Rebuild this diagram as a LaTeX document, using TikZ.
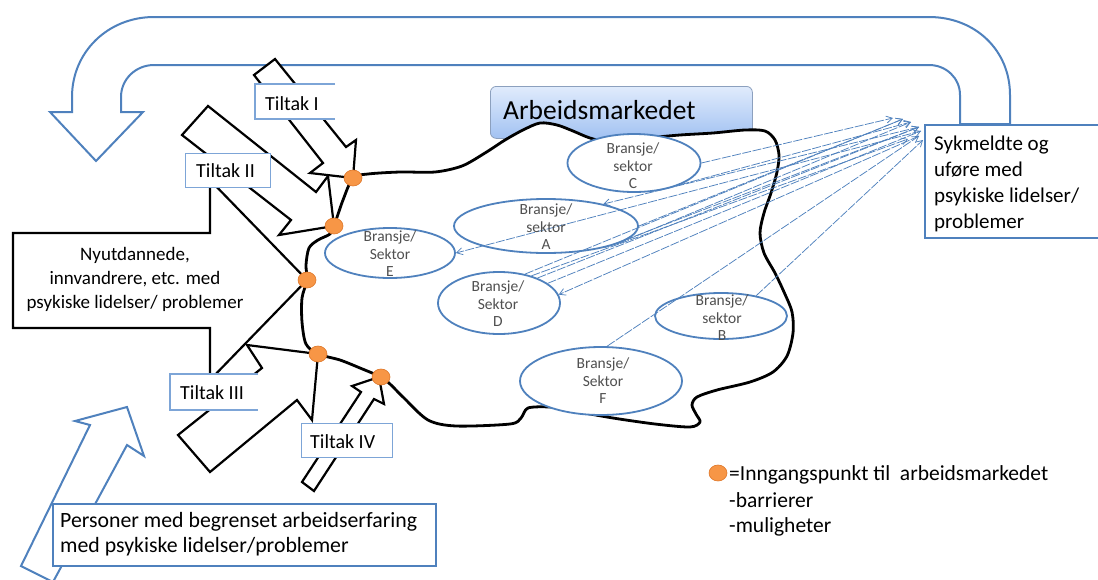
\documentclass[tikz,border=0pt]{standalone}
\usepackage{fontspec}
\setmainfont{Carlito}
\usetikzlibrary{arrows.meta,shapes.geometric}

\definecolor{officeblue}{RGB}{79,129,189}
\definecolor{tagblue}{RGB}{125,165,215}
\definecolor{dotfill}{RGB}{247,150,70}
\definecolor{dotline}{RGB}{222,118,40}
\definecolor{labgray}{RGB}{80,80,80}
\definecolor{amtop}{RGB}{224,235,252}
\definecolor{ambot}{RGB}{162,194,242}
\definecolor{amedge}{RGB}{140,160,190}

\begin{document}
\begin{tikzpicture}[x=1pt,y=-1pt,
  outline/.style={draw=black,line width=2.2pt,fill=white,line join=miter},
  bluebody/.style={draw=officeblue,line width=2pt,fill=white,line join=miter},
  tagline/.style={draw=tagblue,line width=1.2pt},
  tagtext/.style={font=\fontsize{20}{24}\selectfont,inner sep=0pt,anchor=base west},
  sector/.style={ellipse,draw=officeblue,line width=1.8pt,fill=white,inner sep=0pt},
  sectortext/.style={font=\fontsize{15.5}{17.5}\selectfont,text=labgray,align=center,inner sep=0pt},
  link/.style={draw=officeblue,line width=0.75pt,dash pattern=on 9pt off 1.5pt,
    -{Straight Barb[length=6pt,width=7pt]}},
  entry/.style={ellipse,draw=dotline,line width=0.6pt,fill=dotfill,
    minimum width=18pt,minimum height=16pt,inner sep=0pt},
  legendtext/.style={anchor=base west,font=\fontsize{21.5}{25}\selectfont,inner sep=0pt},
]
\useasboundingbox (0,0) rectangle (1098,579);

% ---- large return arrow along the top
\path[bluebody]
  (960,124) -- (960,95) .. controls (960,78) and (946,65) .. (929,65)
  -- (154,65) .. controls (136,65) and (121,79) .. (121,97) -- (121,112)
  -- (143,112) -- (96,161) -- (50,112) -- (72,112) -- (72,97)
  .. controls (72,52) and (108,17) .. (154,17)
  -- (929,17) .. controls (975,17) and (1010,50) .. (1010,95) -- (1010,124) -- cycle;

% ---- arrow from the lower left box
\path[bluebody] (21,566) -- (90,425) -- (75,421) -- (127,407) -- (144,456)
  -- (127,445) -- (53,582) -- cycle;

% ---- big arrow holding the left text
\path[outline] (13,233) -- (210,233) -- (210,180) -- (307,280) -- (210,380)
  -- (210,328) -- (13,328) -- cycle;

% ---- Tiltak arrows
\path[outline] (182,135) -- (291,220) -- (279,235) -- (334,226) -- (328,176)
  -- (316,192) -- (208,106) -- cycle;
\path[outline] (254,75) -- (323,163) -- (310,173) -- (353,178) -- (356,140)
  -- (346,147) -- (275,59) -- cycle;
\path[outline] (178,435) -- (262,368) -- (247,345) -- (318,354) -- (312,420)
  -- (297,400) -- (210,472) -- cycle;
\path[outline] (302,482) -- (361,392) -- (352,386) -- (379,377) -- (384,404)
  -- (374,399) -- (314,491) -- cycle;

% ---- Tiltak labels
\fill[white] (255,84) rectangle (335,119);
\draw[tagline] (335,84) -- (255,84) -- (255,119) -- (335,119);
\node[tagtext] (t1) at (265,110) {Tiltak I};

\node[tagline,fill=white,anchor=north west,minimum width=85pt,minimum height=34pt,inner sep=0pt] (t2box) at (185,153) {};
\node[tagtext] (t2) at (196,177) {Tiltak II};

\fill[white] (170,374) rectangle (258,410);
\draw[tagline] (258,374) -- (170,374) -- (170,410) -- (258,410);
\node[tagtext] (t3) at (180,399) {Tiltak III};

\node[tagline,fill=white,anchor=north west,minimum width=91pt,minimum height=34pt,inner sep=0pt] (t4box) at (301,423) {};
\node[tagtext] (t4) at (310,448) {Tiltak IV};

% ---- left group text (base anchor sits on the last line)
\node[anchor=base,align=center,font=\fontsize{19}{24}\selectfont,inner sep=0pt] (nyt) at (135,308)
  {Nyutdannede,\\innvandrere, etc. med\\psykiske lidelser/ problemer};

% ---- lower left box
\node[draw=officeblue,line width=2pt,fill=white,anchor=north west,minimum width=383pt,
  minimum height=62pt,inner sep=0pt] (pbox) at (52,503) {};
\node[anchor=base west,align=left,font=\fontsize{21.8}{25}\selectfont,inner sep=0pt] (ptext) at (60,552)
  {Personer med begrenset arbeidserfaring\\med psykiske lidelser/problemer};

% ---- labour market title
\node[draw=amedge,line width=0.8pt,rounded corners=6pt,top color=amtop,bottom color=ambot,
  anchor=north west,minimum width=262pt,minimum height=52pt,inner sep=0pt] (ambox) at (490,86) {};
\node[anchor=base west,font=\fontsize{27.5}{30}\selectfont,inner sep=0pt] (amtext) at (503,119) {Arbeidsmarkedet};

% ---- the labour market itself
\draw[line width=2.8pt,fill=white,line join=round] plot[smooth cycle,tension=0.5] coordinates {
  (353,178) (368,174) (400,172) (435,172) (462,166) (485,153) (505,140) (523,130)
  (540,123) (557,125) (573,131) (590,138) (610,142) (647,138) (680,135) (713,133)
  (745,130) (765,131) (775,140) (779,155) (777,172) (771,193) (764,213) (760,233)
  (764,253) (775,273) (784,292) (792,312) (793,333) (787,356) (773,372) (750,382)
  (717,390) (697,397) (692,405) (696,414) (700,422) (690,427) (655,424) (613,418)
  (568,410) (550,407) (528,408) (521,418) (510,424) (456,426) (428,420) (404,398)
  (390,384) (381,377) (360,368) (340,360) (318,354) (306,344) (302,322) (302,298)
  (307,280) (306,265) (309,248) (318,240) (330,234) (334,226) (343,200)};

% ---- sectors
\node[sector,minimum width=133pt,minimum height=58pt] (secC) at (634,163) {};
\node[sector,minimum width=184pt,minimum height=54pt] (secA) at (546,226) {};
\node[sector,minimum width=130pt,minimum height=50pt] (secE) at (390,253) {};
\node[sector,minimum width=122pt,minimum height=62pt] (secD) at (499,303) {};
\node[sector,minimum width=132pt,minimum height=46pt] (secB) at (721,316) {};
\node[sector,minimum width=162pt,minimum height=68pt] (secF) at (601,381) {};

% ---- sick-listed box
\fill[white] (925,125) rectangle (1100,238);
\draw[officeblue,line width=2.2pt] (1100,125) -- (925,125) -- (925,238) -- (1100,238);
\node[anchor=base west,align=left,font=\fontsize{21}{26}\selectfont,inner sep=0pt] (syk) at (934,228)
  {Sykmeldte og\\uføre med\\psykiske lidelser/\\problemer};

% ---- flows between the sectors and the sick-listed group
\coordinate (h1) at (893,118);
\coordinate (h2) at (903,119);
\coordinate (h3) at (911,122);
\coordinate (h4) at (919,127);
\coordinate (h5) at (921,131);
\coordinate (h6) at (919,136);
\coordinate (h7) at (923,140);
\coordinate (h8) at (908,139);
\draw[link] (secC.east) -- (h1);
\draw[link] (secC.-25) -- (h3);
\draw[link] (secA.east) -- (h2);
\draw[link] (secA.-14) -- (h3);
\draw[link] (secA.-20) -- (h4);
\draw[link] (secD.48) -- (h2);
\draw[link] (secD.40) -- (h8);
\draw[link] (secD.33) -- (h4);
\draw[link] (secD.22) -- (h5);
\draw[link] (secF.80) -- (h6);
\draw[link] (secB.30) -- (h7);
\draw[link] (h4) -- (secA.21);
\draw[link] (h5) -- (secE.east);
\draw[link] (h6) -- (secD.8);

% ---- sector labels
\node[sectortext] (labC) at (633,166) {Bransje/\\sektor\\C};
\node[sectortext] (labA) at (546,227) {Bransje/\\sektor\\A};
\node[sectortext] (labE) at (390,254) {Bransje/\\Sektor\\E};
\node[sectortext] (labD) at (498,304) {Bransje/\\Sektor\\D};
\node[sectortext] (labB) at (722,318) {Bransje/\\sektor\\B};
\node[sectortext] (labF) at (603,381) {Bransje/\\Sektor\\F};

% ---- entry points
\node[entry] (d1) at (353,178) {};
\node[entry] (d2) at (334,226) {};
\node[entry] (d3) at (307,280) {};
\node[entry] (d4) at (318,354) {};
\node[entry] (d5) at (381,377) {};

% ---- legend
\node[entry] (legdot) at (718,473) {};
\node[legendtext] (leg1) at (729,480) {=Inngangspunkt til\ \ arbeidsmarkedet};
\node[legendtext] (leg2) at (729,507) {-barrierer};
\node[legendtext] (leg3) at (729,532) {-muligheter};
\end{tikzpicture}
\end{document}
